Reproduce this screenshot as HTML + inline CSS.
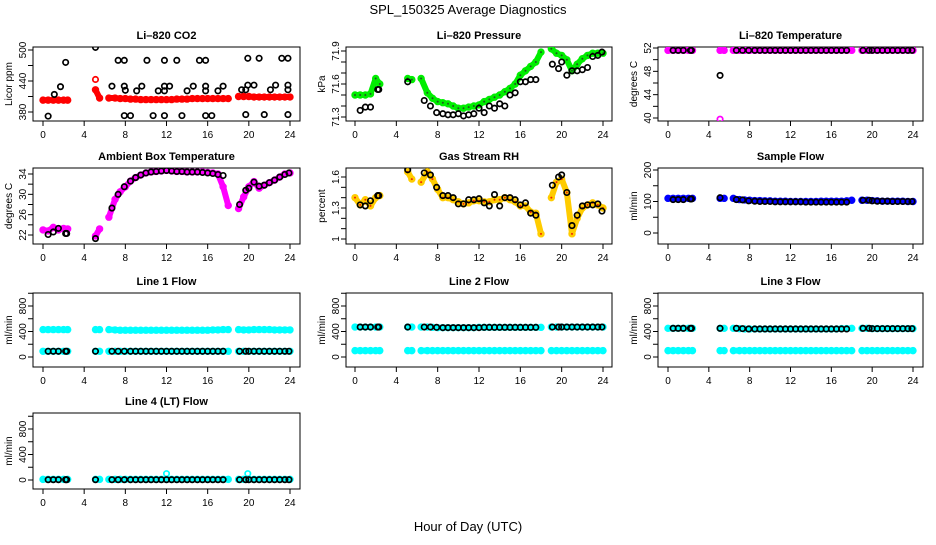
<!DOCTYPE html>
<html><head><meta charset="utf-8"><style>
body{margin:0;background:#fff;width:936px;height:540px;overflow:hidden}
svg{font-family:"Liberation Sans",Arial,sans-serif}
</style></head><body>
<svg id="c" width="936" height="540" viewBox="0 0 936 540">
<text x="468" y="14" text-anchor="middle" font-size="13">SPL_150325  Average Diagnostics</text>
<text x="468" y="531" text-anchor="middle" font-size="13">Hour of Day (UTC)</text>
</svg>
<script>
const tC=[0,0.5,1,1.5,2,2.4,5.1,5.5,6.4,7,7.5,8,8.5,9,9.5,10,10.5,11,11.5,12,12.5,13,13.5,14,14.5,15,15.5,16,16.5,17,17.5,18,19,19.5,20,20.5,21,21.5,22,22.5,23,23.5,24];
const tB=[0.5,1,1.5,2.2,2.3,5.1,6.7,7.3,7.9,8.5,9,9.5,10,10.5,11,11.5,12,12.5,13,13.5,14,14.5,15,15.5,16,16.5,17,17.5,19.1,19.7,20,20.5,21,21.5,22,22.5,23,23.5,23.9];
const xTicks=[0,4,8,12,16,20,24];

const co2Red=[403,403,403,403,403,403,423,407,407,407,406,406,405,405,404,404,404,404,404,404,404,405,405,405,406,406,406,406,406,406,406,406,410,410,410,409,409,409,409,409,409,409,409];
const co2RedOutT=[5.1];
const co2RedOutV=[443];
const co2BlackT=[0.5,1.1,1.7,2.2,5.1,6.7,7.3,7.9,7.9,8,7.9,8.5,9.1,9.6,10.1,10.7,11.2,11.8,11.8,11.8,11.8,12.3,13,13.5,14,14.6,15.2,15.8,15.8,15.8,15.8,16.4,17,17.5,19.3,19.7,19.9,19.9,19.7,20.5,21,21.5,22.1,22.6,23.2,23.8,23.8,23.8,23.8];
const co2BlackV=[372,414,429,476,505,430,480,480,430,422,373,373,421,430,480,373,421,430,480,373,421,430,480,373,421,430,480,480,430,373,421,373,421,430,423,375,432,484,423,432,484,375,423,432,484,484,432,423,375];

const presGreen=[71.50,71.50,71.50,71.51,71.65,71.60,71.65,71.64,71.65,71.52,71.47,71.44,71.43,71.42,71.40,71.38,71.38,71.39,71.40,71.41,71.44,71.46,71.48,71.50,71.53,71.56,71.60,71.68,71.72,71.76,71.80,71.89,71.92,71.88,71.86,71.82,71.72,71.78,71.83,71.86,71.88,71.88,71.88];
const presBlack=[71.36,71.39,71.39,71.55,71.55,71.62,71.45,71.40,71.34,71.33,71.32,71.32,71.33,71.31,71.32,71.33,71.38,71.34,71.40,71.38,71.42,71.40,71.50,71.52,71.62,71.62,71.64,71.64,71.78,71.74,71.80,71.68,71.72,71.72,71.73,71.75,71.85,71.86,71.89];

const liTempMag=[51.6,51.6,51.6,51.6,51.6,51.6,51.6,51.6,51.6,51.6,51.6,51.6,51.6,51.6,51.6,51.6,51.6,51.6,51.6,51.6,51.6,51.6,51.6,51.6,51.6,51.6,51.6,51.6,51.6,51.6,51.6,51.6,51.6,51.6,51.6,51.6,51.6,51.6,51.6,51.6,51.6,51.6,51.6];
const liTempOutT=[5.1];
const liTempOutV=[39.8];
const liTempBlack=[51.6,51.6,51.6,51.6,51.6,47.3,51.6,51.6,51.6,51.6,51.6,51.6,51.6,51.6,51.6,51.6,51.6,51.6,51.6,51.6,51.6,51.6,51.6,51.6,51.6,51.6,51.6,51.6,51.6,51.6,51.6,51.6,51.6,51.6,51.6,51.6,51.6,51.6,51.6];

const ambMag=[23,22.8,23.5,23,23.3,23.2,21.8,23.2,25.5,29,30.5,31.5,32.6,33.3,33.8,34.2,34.4,34.5,34.6,34.7,34.6,34.5,34.5,34.4,34.4,34.4,34.4,34.3,34.2,34.0,31.5,27.8,27.2,29.5,31.5,32.5,31.2,31.8,32.3,32.8,33.4,34,34.2];
const ambBlack=[22.1,22.6,23.3,22.3,22.3,21.3,27.3,30,31.5,32.6,33.3,33.8,34.2,34.4,34.5,34.6,34.7,34.6,34.5,34.5,34.4,34.4,34.4,34.3,34.2,34.1,33.9,33.7,28,30.8,31.2,32.4,31.6,31.8,32.3,32.8,33.4,33.9,34.2];

const rhCol=[1.40,1.33,1.38,1.32,1.40,1.42,1.65,1.58,1.55,1.65,1.58,1.48,1.40,1.40,1.38,1.36,1.34,1.35,1.37,1.37,1.36,1.36,1.38,1.38,1.40,1.38,1.36,1.32,1.32,1.26,1.25,1.05,1.40,1.55,1.58,1.45,1.05,1.20,1.30,1.33,1.35,1.33,1.30];
const rhBlack=[1.33,1.32,1.37,1.42,1.42,1.67,1.64,1.62,1.50,1.42,1.42,1.40,1.34,1.34,1.38,1.38,1.39,1.35,1.32,1.43,1.32,1.40,1.40,1.38,1.33,1.35,1.25,1.23,1.52,1.60,1.62,1.45,1.13,1.23,1.32,1.33,1.33,1.34,1.27];

const sampBlue=[110,110,110,110,110,110,110,110,110,106,105,104,103,103,102,102,101,101,101,100,100,100,100,100,100,101,101,101,101,101,102,104,104,104,103,102,101,101,101,101,101,100,100];
const sampBlack=[106,106,106,108,108,112,106,105,102,101,100,100,100,99,99,99,99,99,99,98,98,98,98,98,98,98,98,98,104,104,102,101,101,101,100,100,100,100,100];

const l1High=[430,430,430,430,430,430,430,430,430,425,420,420,420,420,420,420,420,420,420,420,420,420,420,420,420,420,420,420,425,425,430,430,430,425,425,430,430,430,430,425,425,425,425];
const l1Low=[90,90,90,90,90,90,90,90,90,90,90,90,90,90,90,90,90,90,90,90,90,90,90,90,90,90,90,90,90,90,90,90,90,90,90,90,90,90,90,90,90,90,90];
const l1Black=[90,90,90,90,90,90,90,90,90,90,90,90,90,90,90,90,90,90,90,90,90,90,90,90,90,90,90,90,90,90,90,90,90,90,90,90,90,90,90];
const l2High=[470,470,470,470,470,470,470,470,470,470,465,460,460,460,460,460,460,460,460,465,465,465,465,465,465,465,465,465,465,465,465,465,470,470,470,470,470,470,470,470,470,470,470];
const l2Low=[100,100,100,100,100,100,100,100,100,100,100,100,100,100,100,100,100,100,100,100,100,100,100,100,100,100,100,100,100,100,100,100,100,100,100,100,100,100,100,100,100,100,100];
const l2Black=[470,470,470,470,470,470,470,470,465,460,460,460,460,460,460,460,460,465,465,465,465,465,465,465,465,465,465,465,470,470,470,470,470,470,470,470,470,470,470];
const l3High=[450,450,450,450,450,450,450,450,450,445,440,440,440,440,440,440,440,440,440,440,440,440,440,440,440,440,440,440,440,445,445,450,450,450,445,445,445,445,445,445,445,445,445];
const l3Low=[100,100,100,100,100,100,100,100,100,100,100,100,100,100,100,100,100,100,100,100,100,100,100,100,100,100,100,100,100,100,100,100,100,100,100,100,100,100,100,100,100,100,100];
const l3Black=[450,450,450,450,450,450,450,445,440,440,440,440,440,440,440,440,440,440,440,440,440,440,440,440,440,440,440,440,450,450,445,445,445,445,445,445,445,445,445];
const l4Cyan=[10,10,10,10,10,10,10,10,10,10,10,10,10,10,10,10,10,10,10,10,10,10,10,10,10,10,10,10,10,10,10,10,10,10,10,10,10,10,10,10,10,10,10];
const l4OutT=[12,19.9];
const l4OutV=[100,100];
const l4Black=[5,5,5,5,5,5,5,5,5,5,5,5,5,5,5,5,5,5,5,5,5,5,5,5,5,5,5,5,5,5,5,5,5,5,5,5,5,5,5];

const NS="http://www.w3.org/2000/svg";
const svg=document.getElementById('c');
function mk(tag,attrs,parent){const e=document.createElementNS(NS,tag);for(const k in attrs)e.setAttribute(k,attrs[k]);(parent||svg).appendChild(e);return e;}

const cols=[{bx0:33,bx1:300,t0:43,t24:290,yl:8},{bx0:346,bx1:612,t0:355,t24:603,yl:321},{bx0:658,bx1:923,t0:668,t24:913,yl:633}];
const rows=[{y0:47,y1:121},{y0:168,y1:244},{y0:293,y1:367},{y0:413,y1:489}];

function panel(name,title,ci,ri,ya,pa,yb,pb,yTicks,yLabels,ylab){
  const c=cols[ci],r=rows[ri];
  const g=mk('g',{});
  
  
  const xs=t=>c.t0+(c.t24-c.t0)*t/24;
  const ys=v=>pa+(v-ya)*(pb-pa)/(yb-ya);
  const tt=mk('text',{x:(c.bx0+c.bx1)/2,y:r.y0-8,'text-anchor':'middle','font-size':11,'font-weight':'bold'},g);
  tt.textContent=title;
  
  
  const box=mk('rect',{x:c.bx0,y:r.y0,width:c.bx1-c.bx0,height:r.y1-r.y0,fill:'none',stroke:'#000','stroke-width':1},g);
  
  
  const ax=mk('g',{},g);
  
  
  mk('line',{x1:xs(0),x2:xs(24),y1:r.y1,y2:r.y1,stroke:'#000'},ax);
  xTicks.forEach(t=>{mk('line',{x1:xs(t),x2:xs(t),y1:r.y1,y2:r.y1+5,stroke:'#000'},ax);
    const tx=mk('text',{x:xs(t),y:r.y1+17,'text-anchor':'middle','font-size':10},ax);tx.textContent=t;});
  const ay=mk('g',{},g);
  
  
  yTicks.forEach(v=>{const y=ys(v);mk('line',{x1:c.bx0-5,x2:c.bx0,y1:y,y2:y,stroke:'#000'},ay);});
  mk('line',{x1:c.bx0,x2:c.bx0,y1:ys(yTicks[0]),y2:ys(yTicks[yTicks.length-1]),stroke:'#000'},ay);
  yLabels.forEach(v=>{const y=ys(v);const lx=c.bx0-7;const tx=mk('text',{x:lx,y:y,'text-anchor':'middle','font-size':10,transform:`rotate(-90 ${lx} ${y})`},ay);tx.textContent=v;});
  const ylx=c.yl+4;
  const yl=mk('text',{x:ylx,y:(r.y0+r.y1)/2,'text-anchor':'middle','font-size':10,transform:`rotate(-90 ${ylx} ${(r.y0+r.y1)/2})`},g);
  yl.textContent=ylab;
  
  
  const clipId='cl'+name;
  const cp=mk('clipPath',{id:clipId},g);mk('rect',{x:c.bx0,y:r.y0,width:c.bx1-c.bx0,height:r.y1-r.y0},cp);
  const data=mk('g',{'clip-path':`url(#${clipId})`},g);
  return {
    band(ts,vs,color,sname,inner){
      const sg=mk('g',{},data);
      
      
      let seg=[];
      const flush=()=>{if(seg.length>1)mk('polyline',{points:seg.join(' '),fill:'none',stroke:color,'stroke-width':6,'stroke-linejoin':'round','stroke-linecap':'round'},sg);seg=[];};
      ts.forEach((t,i)=>{if(i>0&&t-ts[i-1]>0.8)flush();seg.push(xs(t)+','+ys(vs[i]));});flush();
      ts.forEach((t,i)=>{
        const p=mk('circle',{cx:xs(t),cy:ys(vs[i]),r:2.8,fill:'none',stroke:color,'stroke-width':1.8},sg);
        
        
        if(inner){mk('circle',{cx:xs(t),cy:ys(vs[i]),r:1,fill:inner},sg);}
      });
    },
    pts(ts,vs,color,sname){
      const sg=mk('g',{},data);
      
      
      ts.forEach((t,i)=>{
        const p=mk('circle',{cx:xs(t),cy:ys(vs[i]),r:2.7,fill:'none',stroke:color,'stroke-width':1.7},sg);
        
        
      });
    }
  };
}

let p;
p=panel('co2-panel','Li\u2013820 CO2',0,0,500,50,380,112,[380,410,440,470,500],[380,440,500],'Licor ppm');
p.band(tC,co2Red,'#ff0000','co2-red-series');p.pts(co2RedOutT,co2RedOutV,'#ff0000','co2-red-outlier');p.pts(co2BlackT,co2BlackV,'#000','co2-black-series');

p=panel('pressure-panel','Li\u2013820 Pressure',1,0,71.9,51,71.3,117,[71.3,71.4,71.5,71.6,71.7,71.8,71.9],[71.3,71.6,71.9],'kPa');
p.band(tC,presGreen,'#00ee00','pressure-green-series','#225522');p.pts(tB,presBlack,'#000','pressure-black-series');

p=panel('li-temp-panel','Li\u2013820 Temperature',2,0,52,48,40,118,[40,42,44,46,48,50,52],[40,44,48,52],'degrees C');
p.band(tC,liTempMag,'#ff00ff','li-temp-magenta-series');p.pts(liTempOutT,liTempOutV,'#ff00ff','li-temp-outlier');p.pts(tB,liTempBlack,'#000','li-temp-black-series');

p=panel('ambient-panel','Ambient Box Temperature',0,1,34,174,22,235,[22,24,26,28,30,32,34],[22,26,30,34],'degrees C');
p.band(tC,ambMag,'#ff00ff','ambient-magenta-series');p.pts(tB,ambBlack,'#000','ambient-black-series');

p=panel('rh-panel','Gas Stream RH',1,1,1.6,177,1.0,239,[1.0,1.1,1.2,1.3,1.4,1.5,1.6],[1.0,1.3,1.6],'percent');
p.band(tC,rhCol,'#ffcc00','rh-yellow-series','#ee2200');p.pts(tB,rhBlack,'#000','rh-black-series');

p=panel('sample-flow-panel','Sample Flow',2,1,200,170,0,233,[0,50,100,150,200],[0,100,200],'ml/min');
p.band(tC,sampBlue,'#0000ff','sample-blue-series');p.pts(tB,sampBlack,'#000','sample-black-series');

p=panel('line1-panel','Line 1 Flow',0,2,800,306,0,357,[0,200,400,600,800,1000],[0,400,800],'ml/min');
p.band(tC,l1High,'#00ffff','line1-high-series');p.band(tC,l1Low,'#00ffff','line1-low-series');p.pts(tB,l1Black,'#000','line1-black-series');

p=panel('line2-panel','Line 2 Flow',1,2,800,306,0,357,[0,200,400,600,800,1000],[0,400,800],'ml/min');
p.band(tC,l2High,'#00ffff','line2-high-series');p.band(tC,l2Low,'#00ffff','line2-low-series');p.pts(tB,l2Black,'#000','line2-black-series');

p=panel('line3-panel','Line 3 Flow',2,2,800,306,0,357,[0,200,400,600,800,1000],[0,400,800],'ml/min');
p.band(tC,l3High,'#00ffff','line3-high-series');p.band(tC,l3Low,'#00ffff','line3-low-series');p.pts(tB,l3Black,'#000','line3-black-series');

p=panel('line4-panel','Line 4 (LT) Flow',0,3,800,429,0,480,[0,200,400,600,800,1000],[0,400,800],'ml/min');
p.band(tC,l4Cyan,'#00ffff','line4-cyan-series');p.pts(l4OutT,l4OutV,'#00ffff','line4-outliers');p.pts(tB,l4Black,'#000','line4-black-series');
</script>
</body></html>
